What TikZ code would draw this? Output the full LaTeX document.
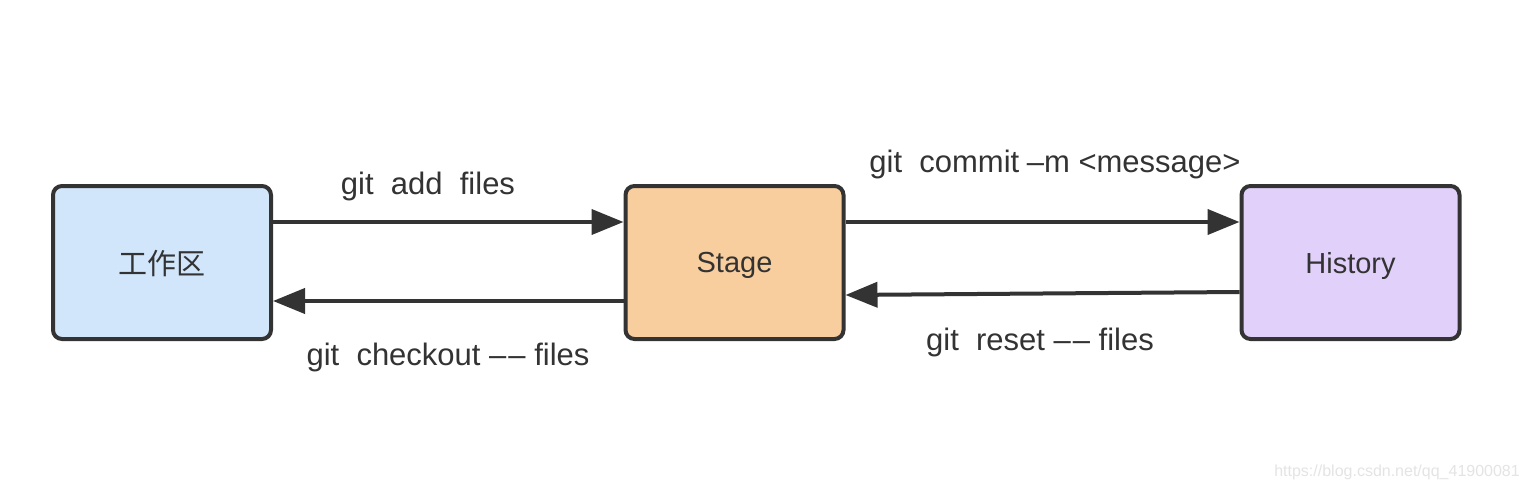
\documentclass[tikz,border=0pt]{standalone}
\usepackage{fontspec}
\setmainfont{Liberation Sans}
\newfontfamily\cjk{Noto Sans CJK SC}
\usetikzlibrary{arrows.meta}
\definecolor{ink}{HTML}{333333}
\definecolor{bluefill}{HTML}{D1E5FB}
\definecolor{orangefill}{HTML}{F8CE9E}
\definecolor{purplefill}{HTML}{E1D1FA}
\definecolor{wm}{HTML}{E4E4E4}
\newcommand{\dd}{–\kern2pt–}
\tikzset{
  box/.style={draw=ink, line width=4pt, rounded corners=9pt, minimum width=218pt, minimum height=153pt, inner sep=0pt, font=\fontsize{29}{32}\selectfont, text=ink, text depth=0pt},
  conn/.style={draw=ink, line width=4pt, -{Triangle[length=32pt,width=25pt]}},
  lbl/.style={font=\fontsize{31}{34}\selectfont, text=ink, inner sep=0pt}
}
\begin{document}
\begin{tikzpicture}[x=1pt,y=-1pt]
\useasboundingbox[fill=white] (0,0) rectangle (1528,492);
\node[box, fill=bluefill] (W) at (162,262.5) {\cjk 工作区};
\node[box, fill=orangefill] (S) at (734.5,262.5) {Stage};
\node[box, fill=purplefill] (H) at (1350.5,262.5) {History};
\draw[conn] ([yshift=40.5pt]W.east) -- ([yshift=40.5pt]S.west);
\draw[conn] ([yshift=-38.5pt]S.west) -- ([yshift=-38.5pt]W.east);
\draw[conn] ([yshift=40.5pt]S.east) -- ([yshift=40.5pt]H.west);
\draw[conn] ([yshift=-29.5pt]H.west) -- ([yshift=-32.5pt]S.east);
\node[lbl] (l1) at (428,186) {git\ \ add\ \ files};
\node[lbl] (l2) at (448,357) {git\ \ checkout \dd\ files};
\node[lbl] (l3) at (1055,164) {git\ \ commit \kern-1pt–m <message>};
\node[lbl] (l4) at (1040,342) {git\ \ reset \dd\ files};
\node[font=\fontsize{16}{18}\selectfont, text=wm, inner sep=0pt, anchor=east] (wmk) at (1520,472) {https://blog.csdn.net/qq\_41900081};
\end{tikzpicture}
\end{document}
